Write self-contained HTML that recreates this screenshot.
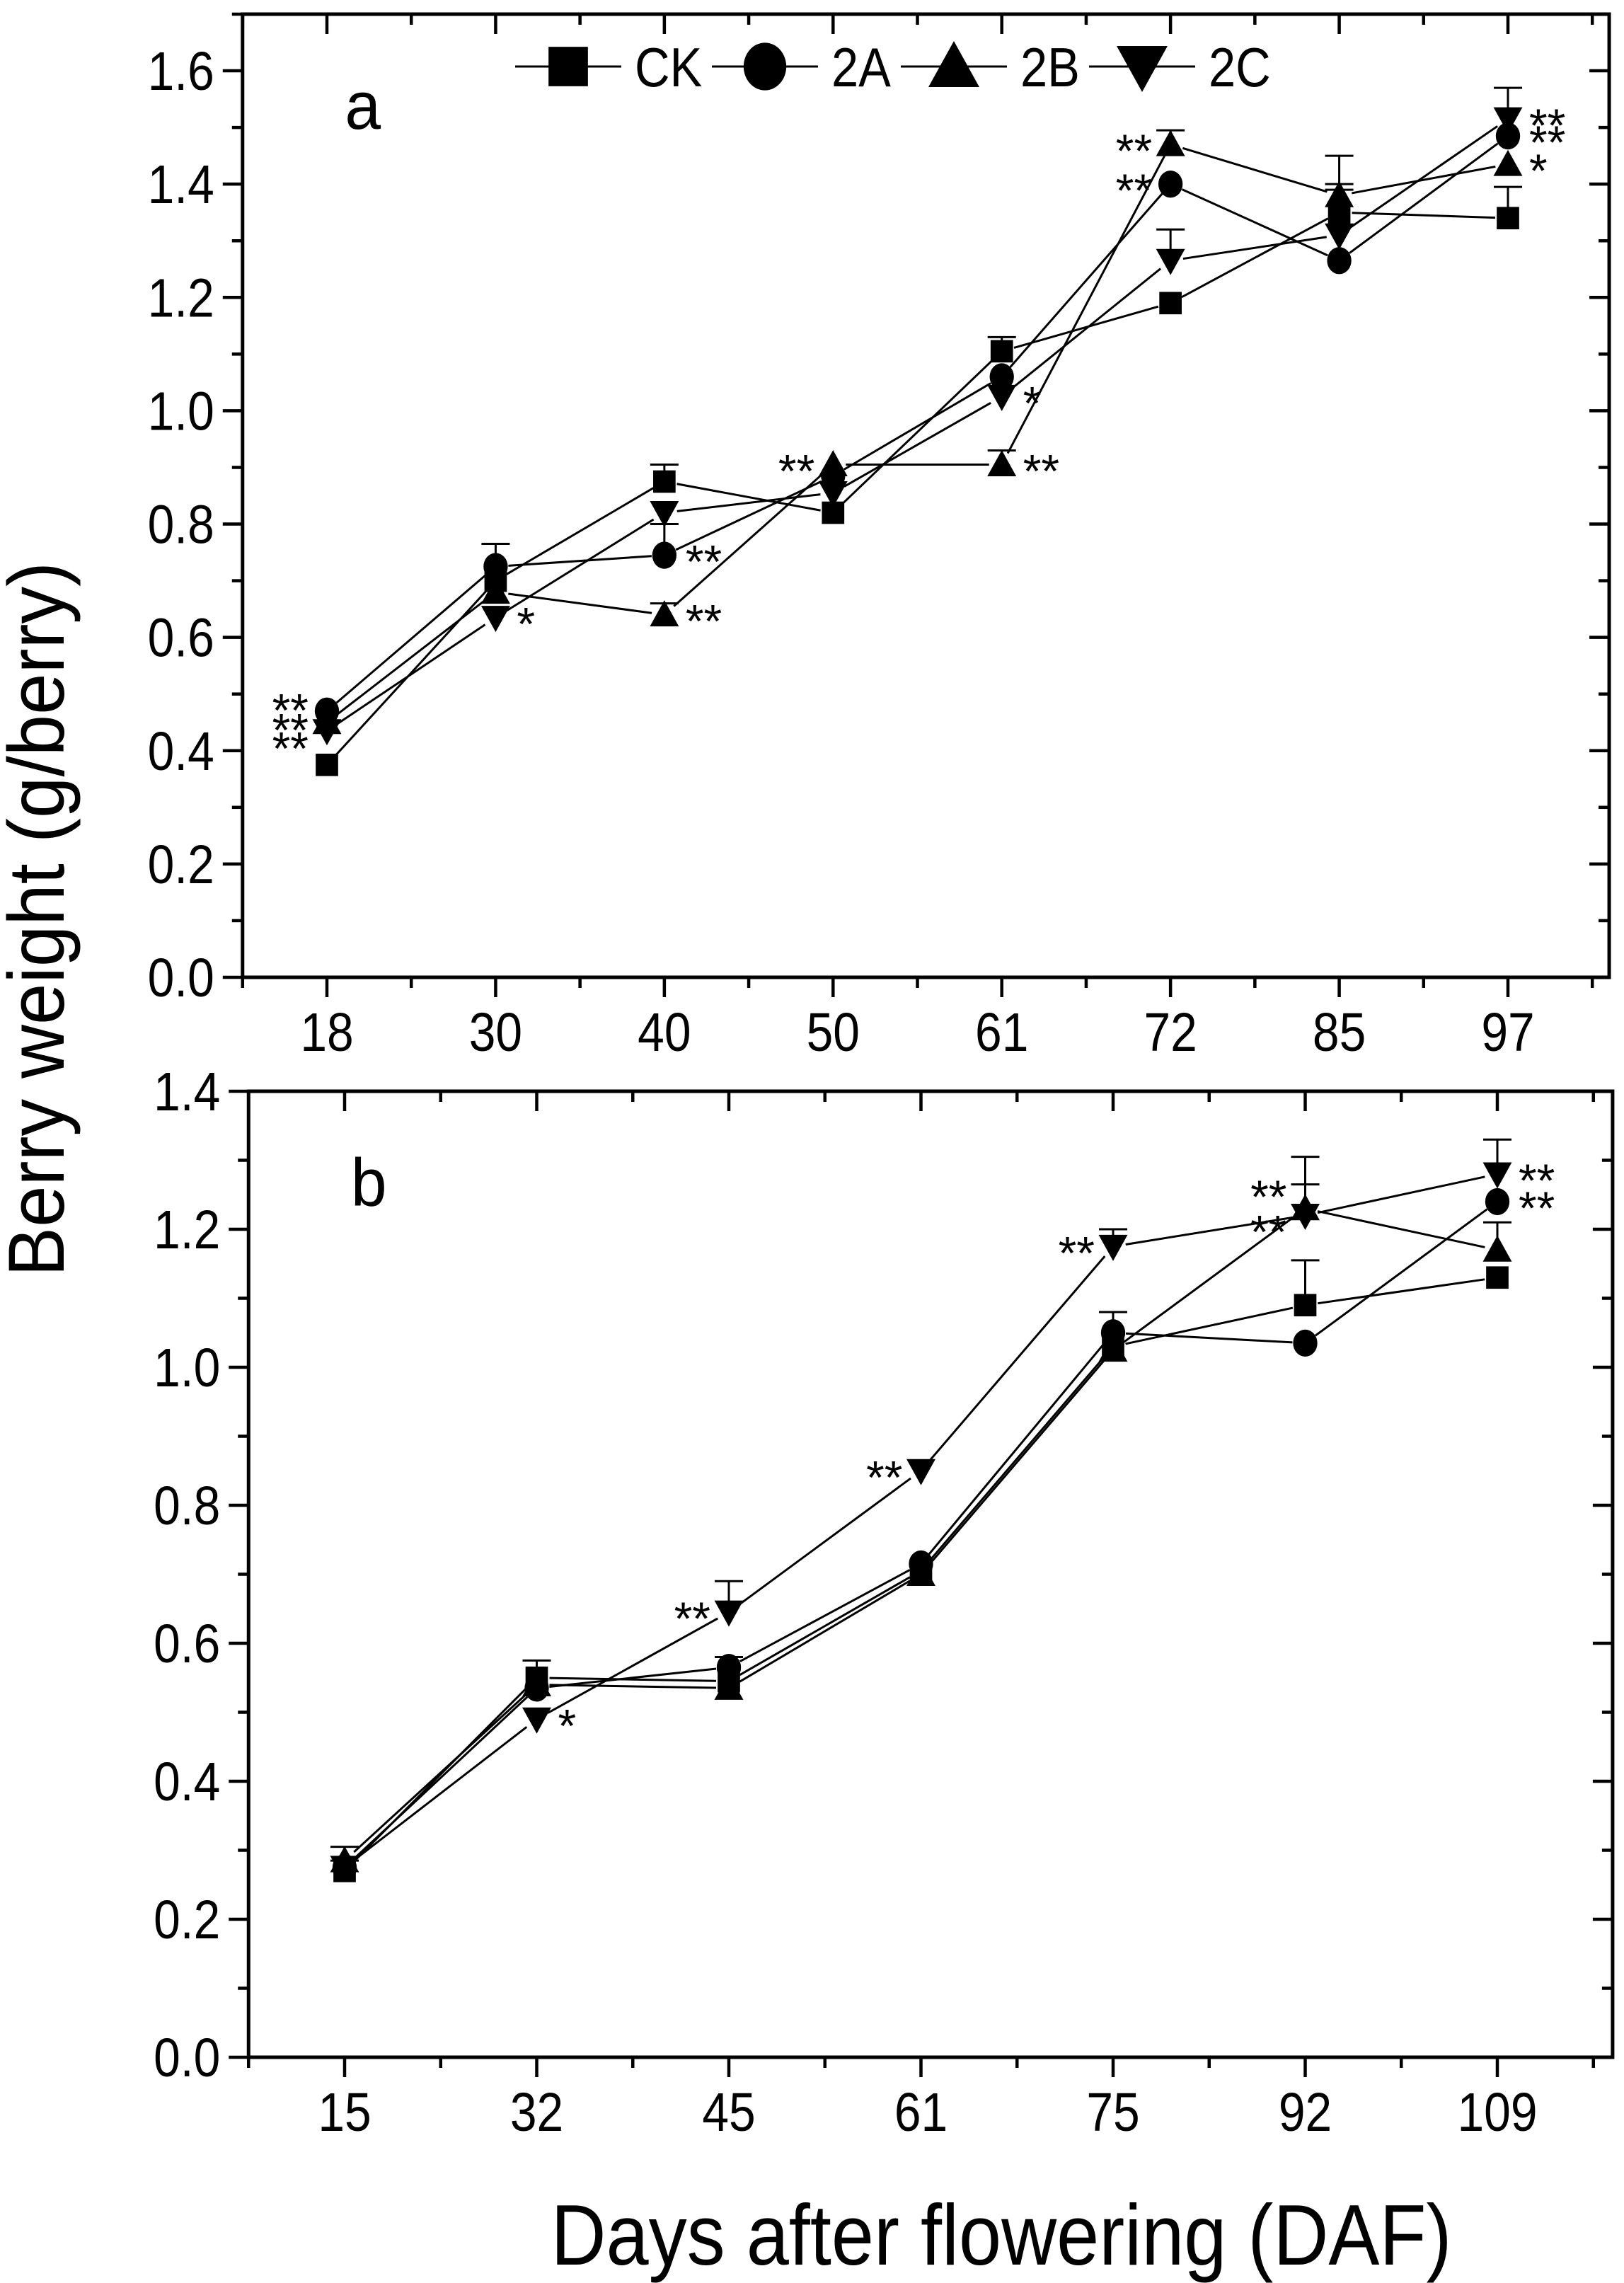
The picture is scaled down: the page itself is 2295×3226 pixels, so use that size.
<!DOCTYPE html>
<html><head><meta charset="utf-8">
<style>
html,body{margin:0;padding:0;background:#fff;}
svg{display:block;font-family:"Liberation Sans",Arial,sans-serif;}
</style></head>
<body>
<svg id="chart" width="2295" height="3226" viewBox="0 0 2295 3226" xmlns="http://www.w3.org/2000/svg">
<rect x="0" y="0" width="2295" height="3226" fill="#fff"/>
</svg>
<script>
// ---------- Panel a data ----------
const catsA = ["18","30","40","50","61","72","85","97"];
const ckA = [0.375,0.70,0.875,0.82,1.105,1.19,1.35,1.34];
const s2aA = [0.47,0.725,0.745,0.885,1.06,1.40,1.265,1.485];
const s2bA = [0.45,0.68,0.64,0.905,0.905,1.47,1.38,1.435];
const s2cA = [0.435,0.635,0.82,0.855,1.025,1.265,1.31,1.515];
const errCkA = [0,0,0.03,0,0.025,0,0.05,0.055];
const err2aA = [0,0.04,0.055,0,0,0,0,0];
const err2bA = [0,0,0.02,0,0.025,0.025,0.07,0];
const err2cA = [0,0,0,0,0,0.055,0.08,0.055];
const yTicksA = [0.0,0.2,0.4,0.6,0.8,1.0,1.2,1.4,1.6];
// star annotations: series index, category index, text, side, label nudge
const starsA = [[1,0,"**","L",-10],[2,0,"**","L",2],[3,0,"**","L",16],
  [3,1,"*","R",0],[1,2,"**","R",0],[2,2,"**","R",0],[2,3,"**","L",0],
  [3,4,"*","R",0],[2,4,"**","R",0],[2,5,"**","L",0],[1,5,"**","L",0],
  [3,7,"**","R",0],[1,7,"**","R",0],[2,7,"*","R",0]];

// ---------- Panel b data ----------
const catsB = ["15","32","45","61","75","92","109"];
const ckB = [0.27,0.55,0.545,0.705,1.03,1.09,1.13];
const s2aB = [0.275,0.535,0.565,0.715,1.05,1.035,1.24];
const s2bB = [0.285,0.54,0.535,0.70,1.025,1.23,1.17];
const s2cB = [0.275,0.49,0.645,0.85,1.175,1.22,1.28];
const errCkB = [0.015,0.025,0,0,0,0.065,0];
const err2aB = [0,0,0.015,0,0.03,0,0];
const err2bB = [0.02,0,0,0,0,0.075,0.04];
const err2cB = [0,0,0.045,0,0.025,0.045,0.05];
const yTicksB = [0.0,0.2,0.4,0.6,0.8,1.0,1.2,1.4];
const starsB = [[3,1,"*","R",0],[3,2,"**","L",0],[3,3,"**","L",0],[3,4,"**","L",0],
  [2,5,"**","L",-26],[3,5,"**","L",14],[3,6,"**","R",0],[1,6,"**","R",0]];

const seriesNames = ["CK","2A","2B","2C"];
const markers = ["square","circle","up","down"];

const NS = "http://www.w3.org/2000/svg";
const svg = document.getElementById("chart");
function mk(tag, attrs, parent){
  const e = document.createElementNS(NS, tag);
  for (const k in attrs) e.setAttribute(k, attrs[k]);
  (parent||svg).appendChild(e);
  return e;
}
function txt(str, x, y, size, anchor, parent, sx){
  const t = mk("text", {x:0, y:0, "font-size":size, "text-anchor":anchor||"middle", fill:"#000",
    transform:`translate(${x},${y}) scale(${sx||0.88},1)`}, parent);
  t.textContent = str;
  return t;
}
function marker(type, cx, cy, s, parent){
  let e;
  if (type==="square") e = mk("rect",{x:cx-s*0.48,y:cy-s*0.48,width:s*0.96,height:s*0.96,fill:"#000"},parent);
  else if (type==="circle") e = mk("ellipse",{cx:cx,cy:cy,rx:s*0.52,ry:s*0.58,fill:"#000"},parent);
  else if (type==="up") e = mk("polygon",{points:`${cx},${cy-s*0.62} ${cx-s*0.62},${cy+s*0.5} ${cx+s*0.62},${cy+s*0.5}`,fill:"#000"},parent);
  else e = mk("polygon",{points:`${cx},${cy+s*0.62} ${cx-s*0.62},${cy-s*0.5} ${cx+s*0.62},${cy-s*0.5}`,fill:"#000"},parent);
  return e;
}

function panel(cfg){
  const g = mk("g",{});
  
  
  const n = cfg.cats.length;
  const sp = (cfg.x1 - cfg.x0)/(n-1);
  const left = cfg.x0 - sp/2, right = cfg.x1 + sp*0.6;
  const X = i => cfg.x0 + i*sp;
  const Y = v => cfg.yb - (v/cfg.ymax)*(cfg.yb - cfg.yt);
  const fr = mk("rect",{x:left,y:cfg.yt,width:right-left,height:cfg.yb-cfg.yt,fill:"none",stroke:"#000","stroke-width":5},g);
  
  
  const yax = mk("g",{},g);
  
  
  const step = cfg.yticks[1]-cfg.yticks[0];
  for (let v=0; v<=cfg.ymax+1e-9; v+=step/2){
    const major = Math.abs(Math.round(v/step)*step - v) < 1e-6;
    const L = major?28:15;
    mk("line",{x1:left-L,y1:Y(v),x2:left,y2:Y(v),stroke:"#000","stroke-width":4.5},yax);
    mk("line",{x1:right-L,y1:Y(v),x2:right,y2:Y(v),stroke:"#000","stroke-width":4.5},yax);
  }
  cfg.yticks.forEach(v=>{
    const t = txt(v.toFixed(1), left-40, Y(v)+27, 77, "end", yax);
    
    
  });
  const xax = mk("g",{},g);
  
  
  for (let i=0;i<n;i++){
    mk("line",{x1:X(i),y1:cfg.yb,x2:X(i),y2:cfg.yb+28,stroke:"#000","stroke-width":4.5},xax);
    mk("line",{x1:X(i),y1:cfg.yt,x2:X(i),y2:cfg.yt+28,stroke:"#000","stroke-width":4.5},xax);
    const t = txt(cfg.cats[i], X(i), cfg.yb+104, 77, "middle", xax);
    
    
  }
  for (let i=0;i<=n;i++){
    const xm = X(i)-sp/2;
    if (xm < left-1 || xm > right+1) continue;
    mk("line",{x1:xm,y1:cfg.yb,x2:xm,y2:cfg.yb+15,stroke:"#000","stroke-width":4.5},xax);
    mk("line",{x1:xm,y1:cfg.yt,x2:xm,y2:cfg.yt+15,stroke:"#000","stroke-width":4.5},xax);
  }
  const pl = txt(cfg.letter, left+170, cfg.yt+162, 96, "middle", g, 0.95);
  
  
  cfg.series.forEach((vals, si)=>{
    const sg = mk("g",{},g);
    
    
    const gap = 18;
    for (let i=0;i<n-1;i++){
      const xa=X(i), ya=Y(vals[i]), xb=X(i+1), yb=Y(vals[i+1]);
      const d=Math.hypot(xb-xa,yb-ya), ux=(xb-xa)/d, uy=(yb-ya)/d;
      const seg = mk("line",{x1:xa+ux*gap,y1:ya+uy*gap,x2:xb-ux*gap,y2:yb-uy*gap,stroke:"#000","stroke-width":3},sg);
      
      
    }
    for (let i=0;i<n;i++){
      const e = cfg.errs[si][i];
      if (e>0){
        const eb = mk("path",{d:`M${X(i)},${Y(vals[i])} V${Y(vals[i]+e)} M${X(i)-20},${Y(vals[i]+e)} H${X(i)+20}`,stroke:"#000","stroke-width":3,fill:"none"},sg);
        
        
      }
      const m = marker(markers[si], X(i), Y(vals[i]), 33, sg);
      
      
    }
  });
  cfg.stars.forEach(s=>{
    const v = cfg.series[s[0]][s[1]];
    const x = s[3]==="L" ? X(s[1])-26 : X(s[1])+30;
    const t = txt(s[2], x, Y(v)+32+s[4], 66, s[3]==="L"?"end":"start", g, 1);
    
    
  });
  return g;
}

panel({name:"panel-a", letter:"a", cats:catsA, x0:462, x1:2131, yt:20, yb:1381, ymax:1.7,
  yticks:yTicksA, series:[ckA,s2aA,s2bA,s2cA], errs:[errCkA,err2aA,err2bA,err2cA], stars:starsA});
panel({name:"panel-b", letter:"b", cats:catsB, x0:487, x1:2116, yt:1542, yb:2907, ymax:1.4,
  yticks:yTicksB, series:[ckB,s2aB,s2bB,s2cB], errs:[errCkB,err2aB,err2bB,err2cB], stars:starsB});

const lg = mk("g",{});


const legX = [803,1081,1348,1614];
seriesNames.forEach((nm,i)=>{
  const eg = mk("g",{},lg);
  
  
  mk("line",{x1:legX[i]-75,y1:94,x2:legX[i]+75,y2:94,stroke:"#000","stroke-width":3},eg);
  marker(markers[i], legX[i], 94, 58, eg);
  txt(nm, legX[i]+94, 122, 78, "start", eg);
});

const yt = mk("text",{x:0,y:0,"font-size":112,"text-anchor":"middle",fill:"#000",
  transform:"translate(90,1299) rotate(-90)", textLength:1010, lengthAdjust:"spacingAndGlyphs"});
yt.textContent = "Berry weight (g/berry)";


const xt = mk("text",{x:1415,y:3200,"font-size":122,"text-anchor":"middle",fill:"#000",
  textLength:1273, lengthAdjust:"spacingAndGlyphs"});
xt.textContent = "Days after flowering (DAF)";


</script>
</body></html>
